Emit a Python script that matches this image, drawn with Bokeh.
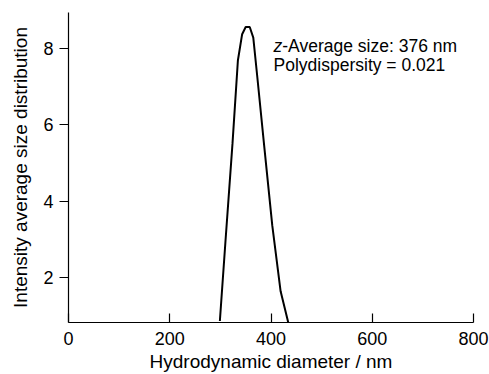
from bokeh.plotting import figure
from bokeh.models import Range1d, FixedTicker, Label
from bokeh.embed import file_html
from bokeh.resources import INLINE

# Data
diameter_nm = [299, 310, 324, 334.6, 343, 350, 358, 365, 373, 386, 402.5, 419, 435]
intensity = [0.85, 2.93, 5.52, 7.69, 8.38, 8.57, 8.57, 8.29, 7.25, 5.52, 3.36, 1.63, 0.76]
x_ticks = [0, 200, 400, 600, 800]
y_ticks = [2, 4, 6, 8]
annot_z = "z"
annot_line1 = "-Average size: 376 nm"
annot_line2 = "Polydispersity = 0.021"

FONT = "Liberation Sans"
FS = "18px"
TFS = "19px"

p = figure(
    width=489, height=374,
    x_range=Range1d(0, 800), y_range=Range1d(0.81, 8.95),
    output_backend="svg", toolbar_location=None,
    min_border_left=68, min_border_right=16, min_border_top=12, min_border_bottom=50,
)
p.outline_line_color = None
p.xgrid.visible = False
p.ygrid.visible = False
p.background_fill_color = "white"
p.border_fill_color = "white"

p.line(diameter_nm, intensity, line_color="black", line_width=2)

xa = p.xaxis[0]
xa.ticker = FixedTicker(ticks=x_ticks)
xa.minor_tick_line_color = None
xa.major_tick_in = 9
xa.major_tick_out = 0
xa.axis_line_color = "black"
xa.major_tick_line_color = "black"
xa.axis_line_width = 1.2
xa.major_tick_line_width = 1.2
xa.major_label_text_font = FONT
xa.major_label_text_font_size = FS
xa.major_label_text_color = "black"
xa.major_label_standoff = 9
xa.axis_label = "Hydrodynamic diameter / nm"
xa.axis_label_text_font = FONT
xa.axis_label_text_font_size = TFS
xa.axis_label_text_font_style = "normal"
xa.axis_label_text_color = "black"
xa.axis_label_standoff = 3

ya = p.yaxis[0]
ya.ticker = FixedTicker(ticks=y_ticks)
ya.minor_tick_line_color = None
ya.major_tick_in = 0
ya.major_tick_out = 9
ya.axis_line_color = "black"
ya.major_tick_line_color = "black"
ya.axis_line_width = 1.2
ya.major_tick_line_width = 1.2
ya.major_label_text_font = FONT
ya.major_label_text_font_size = FS
ya.major_label_text_color = "black"
ya.major_label_standoff = 6
ya.axis_label = "Intensity average size distribution"
ya.axis_label_text_font = FONT
ya.axis_label_text_font_size = TFS
ya.axis_label_text_font_style = "normal"
ya.axis_label_text_color = "black"
ya.axis_label_standoff = 9

lx = 405
AFS = "17.5px"
p.add_layout(Label(x=lx, y=8.06, text=annot_z, text_font=FONT, text_font_size=AFS,
                   text_font_style="italic", text_color="black", text_baseline="alphabetic"))
p.add_layout(Label(x=lx, y=8.06, x_offset=8.75, text=annot_line1, text_font=FONT, text_font_size=AFS,
                   text_color="black", text_baseline="alphabetic"))
p.add_layout(Label(x=lx, y=7.58, text=annot_line2, text_font=FONT, text_font_size=AFS,
                   text_color="black", text_baseline="alphabetic"))

open("out.html", "w").write(file_html(p, INLINE))
